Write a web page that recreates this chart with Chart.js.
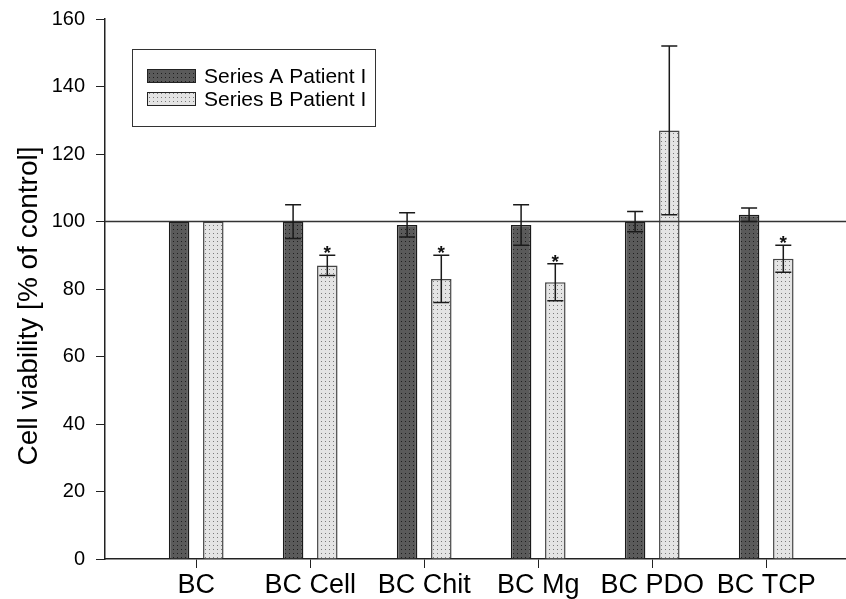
<!DOCTYPE html>
<html>
<head>
<meta charset="utf-8">
<script src="https://cdn.jsdelivr.net/npm/chart.js@4"></script>
<style>
  html, body { margin: 0; padding: 0; background: #fff; }
  #wrap { width: 846px; height: 599px; }
</style>
</head>
<body>
<div id="wrap"><canvas id="grafico" width="846" height="599"></canvas></div>
<script>
// Datos (viabilidad celular, % del control)
const categorias = ['BC', 'BC Cell', 'BC Chit', 'BC Mg', 'BC PDO', 'BC TCP'];
const etiquetasSeries = ['Series A Patient I', 'Series B Patient I'];
const serieA = [100, 100, 99, 99, 100, 102];
const errorA = [0, 5, 3.6, 6, 3, 2];
const serieB = [100, 87, 83, 82, 127, 89];
const errorB = [0, 3, 7, 5.5, 25, 4];
const significativoB = [false, true, true, true, false, true];
const ticksY = [0, 20, 40, 60, 80, 100, 120, 140, 160];
const tituloY = 'Cell viability [% of control]';
const LINEA_REF = 100;

const FUENTE = '"Liberation Sans", Arial, sans-serif';

// relleno punteado como en SigmaPlot
function patron(base, punto) {
  const c = document.createElement('canvas');
  c.width = 4;
  c.height = 4;
  const g = c.getContext('2d');
  g.fillStyle = base;
  g.fillRect(0, 0, 4, 4);
  g.fillStyle = punto;
  g.fillRect(1, 1, 1, 1);
  return g.createPattern(c, 'repeat');
}

const rellenoA = patron('#5a5a5a', '#1e1e1e');
const rellenoB = patron('#e4e4e4', '#7a7a7a');

const pluginLineaRef = {
  id: 'pluginLineaRef',
  afterDatasetsDraw(chart) {
    const { ctx, chartArea, scales } = chart;
    const y = scales.y.getPixelForValue(LINEA_REF);
    ctx.save();
    ctx.strokeStyle = '#333';
    ctx.lineWidth = 1.5;
    ctx.beginPath();
    ctx.moveTo(chartArea.left, y);
    ctx.lineTo(chartArea.right, y);
    ctx.stroke();
    ctx.restore();
  },
};

const pluginErrores = {
  id: 'pluginErrores',
  afterDatasetsDraw(chart) {
    const { ctx, scales } = chart;
    const errores = [errorA, errorB];
    ctx.save();
    ctx.strokeStyle = '#1a1a1a';
    ctx.lineWidth = 1.5;
    chart.data.datasets.forEach((ds, d) => {
      const meta = chart.getDatasetMeta(d);
      meta.data.forEach((barra, i) => {
        const e = errores[d][i];
        const v = ds.data[i].y;
        const x = barra.x;
        if (e > 0) {
          const yTop = scales.y.getPixelForValue(v + e);
          const yBot = scales.y.getPixelForValue(v - e);
          const w = 8;
          ctx.beginPath();
          ctx.moveTo(x, yTop);
          ctx.lineTo(x, yBot);
          ctx.moveTo(x - w, yTop);
          ctx.lineTo(x + w, yTop);
          ctx.moveTo(x - w, yBot);
          ctx.lineTo(x + w, yBot);
          ctx.stroke();
        }
        if (d === 1 && significativoB[i]) {
          const yTop = scales.y.getPixelForValue(v + e);
          ctx.fillStyle = '#111';
          ctx.font = 'bold 19px ' + FUENTE;
          ctx.textAlign = 'center';
          ctx.textBaseline = 'alphabetic';
          ctx.fillText('*', x, yTop + 4);
        }
      });
    });
    ctx.restore();
  },
};

const pluginLeyenda = {
  id: 'pluginLeyenda',
  afterDraw(chart) {
    const { ctx } = chart;
    ctx.save();
    ctx.strokeStyle = '#333';
    ctx.lineWidth = 1;
    ctx.strokeRect(132.5, 49.5, 243, 77);
    ctx.font = '21px ' + FUENTE;
    ctx.textAlign = 'left';
    ctx.textBaseline = 'middle';
    chart.data.datasets.forEach((ds, i) => {
      const y = 69 + i * 23;
      ctx.fillStyle = ds.backgroundColor;
      ctx.fillRect(147, y, 49, 14);
      ctx.strokeStyle = '#222';
      ctx.strokeRect(147.5, y + 0.5, 48, 13);
      ctx.fillStyle = '#000';
      ctx.fillText(ds.label, 204, y + 8);
    });
    ctx.restore();
  },
};

const pluginTituloY = {
  id: 'pluginTituloY',
  afterDraw(chart) {
    const { ctx } = chart;
    ctx.save();
    ctx.translate(37, 306);
    ctx.rotate(-Math.PI / 2);
    ctx.font = '28px ' + FUENTE;
    ctx.fillStyle = '#000';
    ctx.textAlign = 'center';
    ctx.textBaseline = 'alphabetic';
    ctx.fillText(tituloY, 0, 0);
    ctx.restore();
  },
};

const datasets = [
  {
    label: etiquetasSeries[0],
    data: serieA.map((v, i) => ({ x: i, y: v })),
    backgroundColor: rellenoA,
    borderColor: '#1a1a1a',
    borderWidth: 1.5,
    borderSkipped: 'bottom',
  },
  {
    label: etiquetasSeries[1],
    data: serieB.map((v, i) => ({ x: i, y: v })),
    backgroundColor: rellenoB,
    borderColor: '#444',
    borderWidth: 1.5,
    borderSkipped: 'bottom',
  },
];

new Chart(document.getElementById('grafico'), {
  type: 'bar',
  data: { datasets },
  options: {
    responsive: false,
    animation: false,
    devicePixelRatio: 1,
    categoryPercentage: 0.6,
    barPercentage: 0.6,
    layout: { padding: { top: 19, right: 0, bottom: 0, left: 0 } },
    scales: {
      x: {
        type: 'linear',
        min: -0.8,
        max: 5.7,
        offset: false,
        afterFit(scale) {
          scale.height = 40;
          scale.paddingLeft = 0;
          scale.paddingRight = 0;
        },
        afterBuildTicks(scale) { scale.ticks = categorias.map((_, i) => ({ value: i })); },
        ticks: {
          autoSkip: false,
          maxRotation: 0,
          padding: 1,
          color: '#000',
          font: { family: FUENTE, size: 27 },
          callback: (v) => categorias[v] ?? '',
        },
        grid: { offset: false, drawOnChartArea: false, drawTicks: true, tickLength: 9, color: '#222' },
        border: { display: true, color: '#222', width: 1.5 },
      },
      y: {
        min: 0,
        max: 160,
        afterFit(scale) {
          scale.width = 105;
          scale.paddingTop = 0;
          scale.paddingBottom = 0;
        },
        afterBuildTicks(scale) { scale.ticks = ticksY.map((v) => ({ value: v })); },
        ticks: {
          padding: 11,
          color: '#000',
          font: { family: FUENTE, size: 20 },
        },
        grid: { drawOnChartArea: false, drawTicks: true, tickLength: 9, color: '#222' },
        border: { display: true, color: '#222', width: 1.5 },
      },
    },
    plugins: {
      legend: { display: false },
      tooltip: { enabled: false },
    },
  },
  plugins: [pluginLineaRef, pluginErrores, pluginLeyenda, pluginTituloY],
});
</script>
</body>
</html>
